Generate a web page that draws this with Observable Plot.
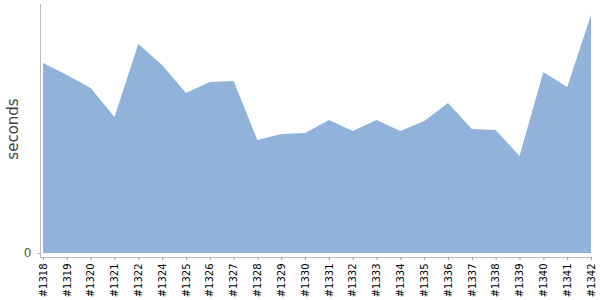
<!DOCTYPE html>
<html>
<head>
<meta charset="utf-8">
<script src="https://cdn.jsdelivr.net/npm/d3@7"></script>
<script src="https://cdn.jsdelivr.net/npm/@observablehq/plot@0.6"></script>
<style>
  html, body { margin: 0; padding: 0; background: #fff; }
  svg { display: block; }
</style>
</head>
<body>
<div id="chart"></div>
<script>
const builds = ["#1318","#1319","#1320","#1321","#1322","#1324","#1325","#1326","#1327","#1328","#1329","#1330","#1331","#1332","#1333","#1334","#1335","#1336","#1337","#1338","#1339","#1340","#1341","#1342"];
const seconds = [190,178,165,136,209,188,160,171,172,113,119,120,133,122,133,122,132,150,124,123,97,181,166,238];
const yTicks = [0];
const yLabel = "seconds";

const data = builds.map((b, i) => ({build: b, value: seconds[i]}));

const chart = Plot.plot({
  width: 600,
  height: 300,
  marginTop: 4,
  marginLeft: 40,
  marginRight: 9,
  marginBottom: 43,
  insetLeft: 3,
  insetBottom: 4,
  style: {fontFamily: "DejaVu Sans", fontSize: "10px", color: "#000", background: "#fff"},
  x: {type: "point", domain: builds, padding: 0, round: false},
  y: {domain: [0, 249]},
  marks: [
    Plot.areaY(data, {x: "build", y: "value", fill: "#90b2db", curve: "linear"}),
    Plot.frame({anchor: "left", stroke: "#bbb"}),
    Plot.frame({anchor: "bottom", stroke: "#bbb"}),
    Plot.axisX({tickSize: 3, tickRotate: -90, tickPadding: 3, stroke: "#999", fill: "#000", fontSize: 10, label: null}),
    Plot.axisY(yTicks, {tickSize: 3, tickPadding: 6, stroke: "#bbb", fill: "#555", fontSize: 12, label: null}),
    Plot.text([yLabel], {frameAnchor: "left", textAnchor: "middle", dx: -27, dy: -2, rotate: -90, fill: "#444", fontSize: 15, style: "letter-spacing:0.5px"})
  ]
});
document.getElementById("chart").appendChild(chart);
</script>
</body>
</html>
